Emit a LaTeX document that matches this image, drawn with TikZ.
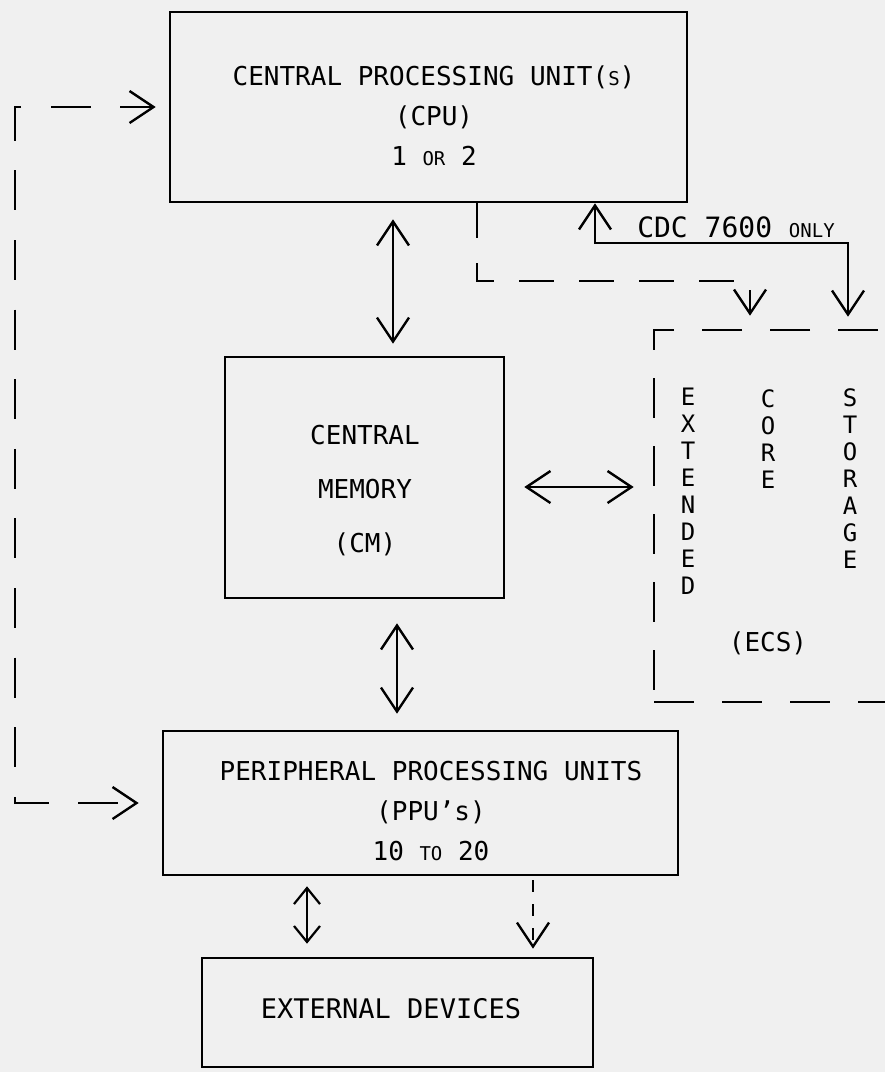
\documentclass[tikz,border=0pt]{standalone}
\usepackage{fontspec}
\setmonofont{DejaVu Sans Mono}
\usetikzlibrary{arrows.meta}
\newcommand{\lowcap}[1]{{\fontsize{19}{20}\selectfont #1}}

\begin{document}
\begin{tikzpicture}[x=1pt, y=-1pt, line width=2.2pt, black,
        box/.style={draw, line width=2.6pt, inner sep=0pt},
        lbl/.style={font=\ttfamily\fontsize{26}{40}\selectfont, align=center, inner sep=0pt},
        vert/.style={font=\ttfamily\fontsize{24}{27}\selectfont, align=center, inner sep=0pt},
        broken/.style={dash pattern=on 35pt off 25pt},
        >={Straight Barb[length=24pt, width=32pt, line width=2.4pt]}]
        \fill[white!94!black] (0,0) rectangle (885,1072);
        \useasboundingbox (0,0) rectangle (885,1072);

        % boxes
        \node[box, minimum width=517, minimum height=190] (cpu) at (428.5,107) {};
        \node[box, minimum width=279, minimum height=241] (cm) at (364.5,477.5) {};
        \node[box, minimum width=515, minimum height=144] (ppu) at (420.5,803) {};
        \node[box, minimum width=391, minimum height=109] (ext) at (397.5,1012.5) {};
        \node[box, dash pattern=on 40pt off 28pt, minimum width=300, minimum height=372] (ecs) at (804,516) {};

        % texts
        \node[lbl] (cputxt) at (434,116) {CENTRAL PROCESSING UNIT(\lowcap{S})\\(CPU)\\1 \lowcap{OR} 2};
        \node[lbl, font=\ttfamily\fontsize{26}{54}\selectfont] (cmtxt) at (365,491) {CENTRAL\\MEMORY\\(CM)};
        \node[lbl] (pputxt) at (431,811) {PERIPHERAL PROCESSING UNITS\\(PPU’s)\\10 \lowcap{TO} 20};
        \node[lbl, font=\ttfamily\fontsize{27}{40}\selectfont] (exttxt) at (391,1009) {EXTERNAL DEVICES};
        \node[lbl, font=\ttfamily\fontsize{28}{40}\selectfont] (cdc) at (736,227) {CDC 7600 \lowcap{ONLY}};
        \node[vert] (extended) at (688,491.5) {E\\X\\T\\E\\N\\D\\E\\D};
        \node[vert] (core) at (768,439) {C\\O\\R\\E};
        \node[vert] (storage) at (850,479) {S\\T\\O\\R\\A\\G\\E};
        \node[lbl] (ecstxt) at (768,643) {(ECS)};

        \coordinate (upcol) at (393,0);
        \coordinate (midrow) at (0,487);
        \coordinate (downcol) at (397,0);
        \coordinate (extcol) at (307,0);
        \coordinate (extdash) at (533,0);
        \coordinate (ecsbend) at (477,281);
        \coordinate (ecsdrop) at (750,0);
        \coordinate (cdcbend) at (595,243);
        \coordinate (cdcdrop) at (848,243);
        \coordinate (loop) at (15,500);

        % connectors
        \draw[<->, shorten <=16pt, shorten >=12pt] (cpu.south -| upcol) -- (cm.north -| upcol);
        \draw[<->, shorten <=19pt, shorten >=19pt] (cm.east |- midrow) -- (ecs.west |- midrow);
        \draw[<->, shorten <=24pt, shorten >=16pt] (cm.south -| downcol) -- (ppu.north -| downcol);
        \draw[{Straight Barb[length=16pt, width=26pt]}-{Straight Barb[length=16pt, width=26pt]}, shorten <=10pt, shorten >=13pt] (ppu.south -| extcol) -- (ext.north -| extcol);
        \draw[->, dash pattern=on 12pt off 12pt, shorten <=4pt, shorten >=8pt] (ppu.south -| extdash) -- (ext.north -| extdash);
        \draw[->, broken, shorten >=13pt] (cpu.south -| ecsbend) -- (ecsbend) -| (ecs.north -| ecsdrop);
        \draw[<->, shorten >=12pt] (cpu.south -| cdcbend) -- (cdcbend) -- (cdcdrop) -- (ecs.north -| cdcdrop);
        \draw[<->, dash pattern=on 40pt off 29.6pt, dash phase=8pt, shorten <=13pt, shorten >=23pt] (cpu.west) -| (loop) |- (ppu.west);
\end{tikzpicture}
\end{document}
